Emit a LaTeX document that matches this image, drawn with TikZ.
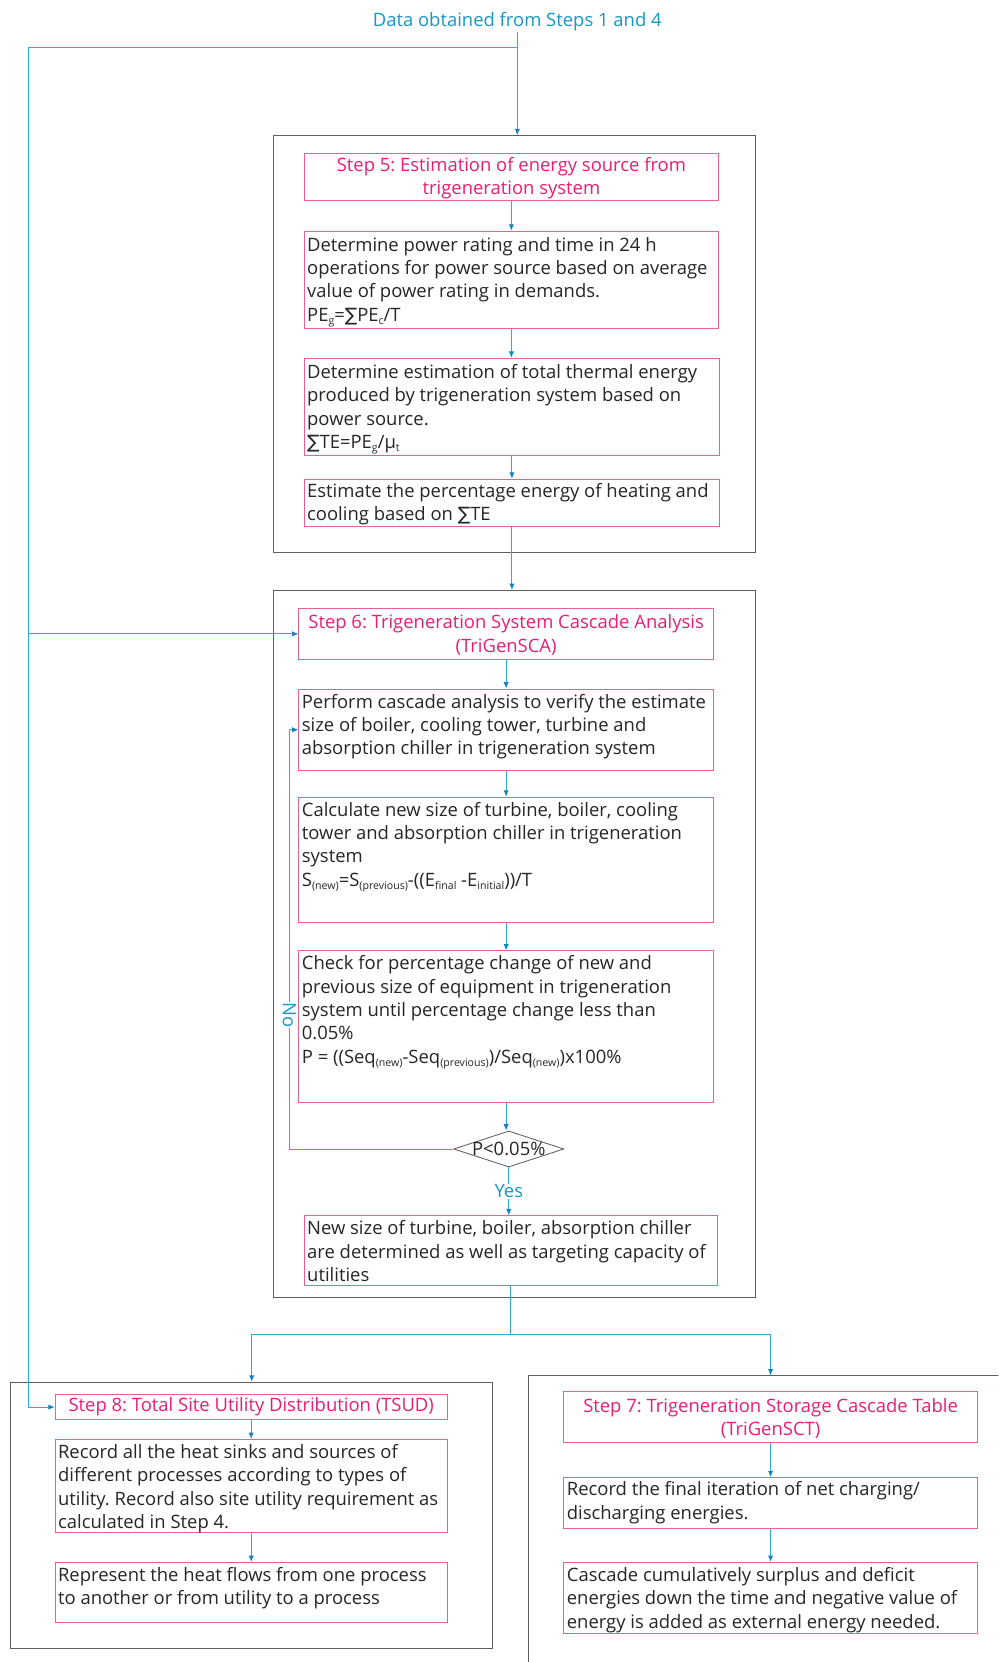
\documentclass[tikz,border=0pt]{standalone}
\usepackage{fontspec}
\setmainfont{Open Sans}
\newfontfamily\symf{DejaVu Sans}
\usetikzlibrary{fit,shapes.geometric,arrows.meta}
\definecolor{pinkline}{RGB}{233,95,145}
\definecolor{pinktext}{RGB}{230,30,120}
\definecolor{blueline}{RGB}{45,170,220}
\definecolor{bluehead}{RGB}{20,130,190}
\definecolor{bluetext}{RGB}{25,150,200}
\definecolor{outerc}{RGB}{95,95,95}
\newcommand\sbs[1]{\raisebox{-0.3ex}{\fontsize{10}{10}\selectfont #1}}
\newcommand\SUM{{\symf ∑}}
\frenchspacing
\begin{document}
\begin{tikzpicture}[x=1pt,y=-1pt,
  font=\fontsize{17.4}{22}\selectfont\frenchspacing,
  outer/.style={draw=outerc, line width=0.8pt, inner sep=0pt},
  pbox/.style={draw=pinkline, line width=0.8pt, inner sep=0pt},
  title/.style={align=center, inner sep=0pt, text=pinktext},
  txt/.style={anchor=north west, align=left, inner sep=0pt, text=black!85},
  ln/.style={draw=blueline, line width=0.9pt},
  arr/.style={ln, -{Latex[length=6pt,width=5pt,color=bluehead]}}]
\useasboundingbox (0,0) rectangle (942,1568);
\clip (0,0) rectangle (942,1568);
\fill[white] (0,0) rectangle (942,1568);

% top label
\node[text=bluetext, inner sep=1pt] (data) at (488,20) {Data obtained from Steps 1 and 4};

% ---------- Step 5 block ----------
\node[outer, fit={(258,128) (713,521)}] (outer1) {};
\node[pbox, fit={(287,145) (678,189)}] (s5) {};
\node[title] (s5t) at ([yshift=-1pt]s5.center) {Step 5: Estimation of energy source from\\trigeneration system};
\node[pbox, fit={(287,218) (678,310)}] (A) {};
\node[txt] (At) at ([xshift=3pt,yshift=-6pt]A.north west) {Determine power rating and time in 24 h\\operations for power source based on average\\value of power rating in demands.\\PE\sbs{g}=\SUM PE\sbs{c}/T};
\node[pbox, fit={(287,338) (679,430)}] (B) {};
\node[txt] (Bt) at ([xshift=3pt,yshift=-6pt]B.north west) {Determine estimation of total thermal energy\\produced by trigeneration system based on\\power source.\\\SUM TE=PE\sbs{g}/μ\sbs{t}};
\node[pbox, fit={(287,452) (679,497)}] (C) {};
\node[txt] (Ct) at ([xshift=3pt,yshift=-4pt]C.north west) {Estimate the percentage energy of heating and\\cooling based on \SUM TE};

% ---------- Step 6 block ----------
\node[outer, fit={(258,557) (713,1224)}] (outer2) {};
\node[pbox, fit={(282,574) (673,622)}] (s6) {};
\node[title] (s6t) at ([yshift=-1pt]s6.center) {Step 6: Trigeneration System Cascade Analysis\\(TriGenSCA)};
\node[pbox, fit={(282,650) (673,727)}] (D) {};
\node[txt] (Dt) at ([xshift=3pt,yshift=-5pt]D.north west) {Perform cascade analysis to verify the estimate\\size of boiler, cooling tower, turbine and\\absorption chiller in trigeneration system};
\node[pbox, fit={(282,752) (673,870)}] (E) {};
\node[txt] (Et) at ([xshift=3pt,yshift=-5pt]E.north west) {Calculate new size of turbine, boiler, cooling\\tower and absorption chiller in trigeneration\\system\\S\sbs{(new)}=S\sbs{(previous)}-((E\sbs{final} -E\sbs{initial}))/T};
\node[pbox, fit={(282,897) (673,1040)}] (F) {};
\node[txt] (Ft) at ([xshift=3pt,yshift=-5pt]F.north west) {Check for percentage change of new and\\previous size of equipment in trigeneration\\system until percentage change less than\\0.05\%\\P = ((Seq\sbs{(new)}-Seq\sbs{(previous)})/Seq\sbs{(new)})x100\%};
\node[draw=outerc, line width=0.8pt, diamond, inner sep=0pt, minimum width=104pt, minimum height=34pt] (dia) at (480,1084) {};
\node[inner sep=0pt, text=black!85] (diat) at (dia.center) {P<0.05\%};
\node[pbox, fit={(287,1147) (677,1213)}] (G) {};
\node[txt] (Gt) at ([xshift=3pt,yshift=-5pt]G.north west) {New size of turbine, boiler, absorption chiller\\are determined as well as targeting capacity of\\utilities};

% ---------- Step 8 block ----------
\node[outer, fit={(10,1304) (465,1555)}] (outer3) {};
\node[pbox, fit={(52,1316) (422,1339)}] (s8) {};
\node[title] (s8t) at (s8.center) {Step 8: Total Site Utility Distribution (TSUD)};
\node[pbox, fit={(52,1358) (422,1446)}] (H) {};
\node[txt] (Ht) at ([xshift=3pt,yshift=-5pt]H.north west) {Record all the heat sinks and sources of\\different processes according to types of\\utility. Record also site utility requirement as\\calculated in Step 4.};
\node[pbox, fit={(52,1474) (422,1531)}] (I) {};
\node[txt] (It) at ([xshift=3pt,yshift=-5pt]I.north west) {Represent the heat flows from one process\\to another or from utility to a process};

% ---------- Step 7 block ----------
\node[outer, fit={(499,1298) (970,1600)}] (outer4) {};
\node[pbox, fit={(532,1313) (922,1361)}] (s7) {};
\node[title] (s7t) at ([yshift=-1pt]s7.center) {Step 7: Trigeneration Storage Cascade Table\\(TriGenSCT)};
\node[pbox, fit={(532,1394) (922,1442)}] (J) {};
\node[txt] (Jt) at ([xshift=3pt,yshift=-4pt]J.north west) {Record the final iteration of net charging/\\discharging energies.};
\node[pbox, fit={(532,1474) (922,1541)}] (K) {};
\node[txt] (Kt) at ([xshift=3pt,yshift=-5pt]K.north west) {Cascade cumulatively surplus and deficit\\energies down the time and negative value of\\energy is added as external energy needed.};

% ---------- connectors ----------
\coordinate (j1) at (488,45);
\coordinate (lft) at (27,45);
\coordinate (nx) at (273,0);
\draw[arr] (data.south) -- (data.south |- outer1.north);
\draw[arr] (j1) -- (lft) -- (lft |- s8.west) -- (s8.west);
\draw[arr] (lft |- s6.west) -- (s6.west);

\draw[arr] (s5.south) -- (s5.south |- A.north);
\draw[arr] (A.south) -- (A.south |- B.north);
\draw[arr] (B.south) -- (B.south |- C.north);
\draw[arr] (C.south) -- (C.south |- outer2.north);

\draw[arr] (s6.south) -- (s6.south |- D.north);
\draw[arr] (D.south) -- (D.south |- E.north);
\draw[arr] (E.south) -- (E.south |- F.north);
\draw[arr] (F.south) -- (F.south |- dia.north);
\draw[arr] (dia.south) -- node[pos=0.5, fill=white, text=bluetext, inner sep=1pt] (yes) {Yes} (dia.south |- G.north);
\draw[arr] (dia.west) -- (nx |- dia.west) -- node[pos=0.32, fill=white, text=bluetext, inner sep=0.5pt, rotate=-90] (no) {No} (nx |- D.west) -- (D.west);

\coordinate (sp) at ([yshift=-46pt]G.south);
\draw[ln] (G.south) -- (sp);
\draw[arr] (sp) -- (sp -| outer3.north) -- (outer3.north);
\draw[arr] (sp) -- (sp -| s7.north) -- (s7.north |- outer4.north);

\draw[arr] (s8.south) -- (s8.south |- H.north);
\draw[arr] (H.south) -- (H.south |- I.north);
\draw[arr] (s7.south) -- (s7.south |- J.north);
\draw[arr] (J.south) -- (J.south |- K.north);
\end{tikzpicture}
\end{document}
